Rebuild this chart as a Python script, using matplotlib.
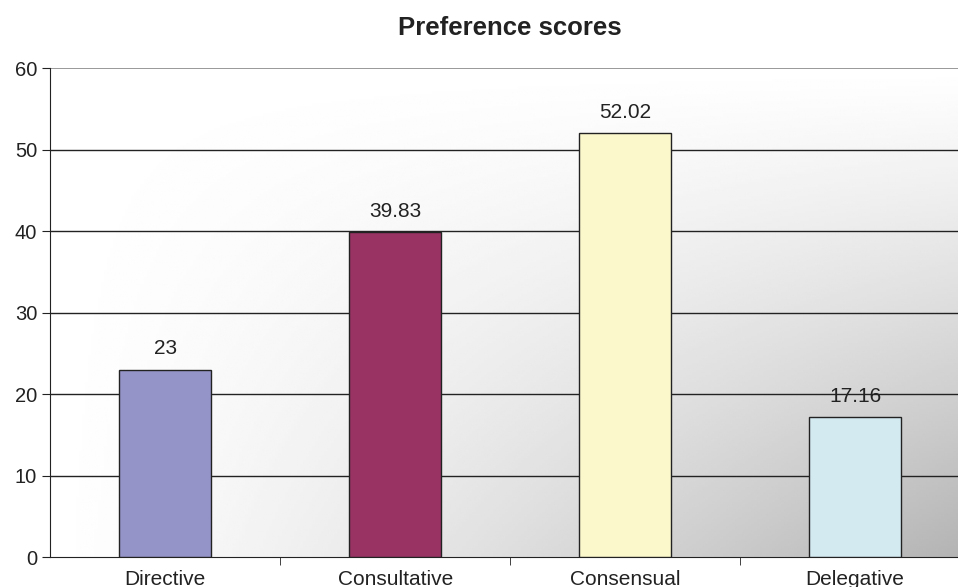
import numpy as np
import matplotlib.pyplot as plt

categories = ['Directive', 'Consultative', 'Consensual', 'Delegative']
scores = [23, 39.83, 52.02, 17.16]
labels = ['23', '39.83', '52.02', '17.16']
colors = ['#9594c8', '#993363', '#fbf8cc', '#d3eaf1']

plt.rcParams['font.family'] = ['Liberation Sans', 'DejaVu Sans']

fig = plt.figure(figsize=(9.58, 5.87), dpi=100)
ax = fig.add_axes([0.0525, 0.051, 0.96, 0.833])

# gradient background: white top-left, grey bottom-right
xx, yy = np.meshgrid(np.linspace(0, 1, 300), np.linspace(1, 0, 200))
t = (xx ** 1.2) * (1 - yy) ** 1.1
bg = 1 - 0.3 * t
ax.imshow(bg, cmap='gray', vmin=0, vmax=1, extent=[-0.5, 3.5, 0, 60],
          aspect='auto', zorder=0, interpolation='bilinear')

x = np.arange(len(categories))
ax.bar(x, scores, width=0.4, color=colors, edgecolor='#222222', linewidth=1, zorder=3)
for xi, v, lab in zip(x, scores, labels):
    ax.text(xi, v + 1.4, lab, ha='center', va='bottom', fontsize=15, color='#222222', zorder=4)

ax.set_xlim(-0.5, 3.5)
ax.set_ylim(0, 60)
ax.set_yticks(range(0, 61, 10))
for yv in range(10, 60, 10):
    ax.axhline(yv, color='#222222', linewidth=1, zorder=1)
ax.axhline(60, color='#888888', linewidth=1.2, zorder=1)

ax.set_xticks(x)
ax.set_xticklabels(categories, fontsize=15, color='#222222')
ax.set_xticks([0.5, 1.5, 2.5], minor=True)
ax.tick_params(axis='x', which='major', length=0, pad=9)
ax.tick_params(axis='x', which='minor', length=6, direction='out', color='#222222')
ax.tick_params(axis='y', labelsize=14.5, length=6, direction='out', color='#222222', labelcolor='#222222')

for s in ['top', 'right']:
    ax.spines[s].set_visible(False)
ax.spines['left'].set_color('#222222')
ax.spines['bottom'].set_color('#222222')

# title centred over the plot area
ax.text(0.5, 1.0 + 40 / 489, 'Preference scores', transform=ax.transAxes, fontsize=18.5,
        fontweight='bold', ha='center', va='center', color='#222222')

fig.savefig('out.png', dpi=100)
